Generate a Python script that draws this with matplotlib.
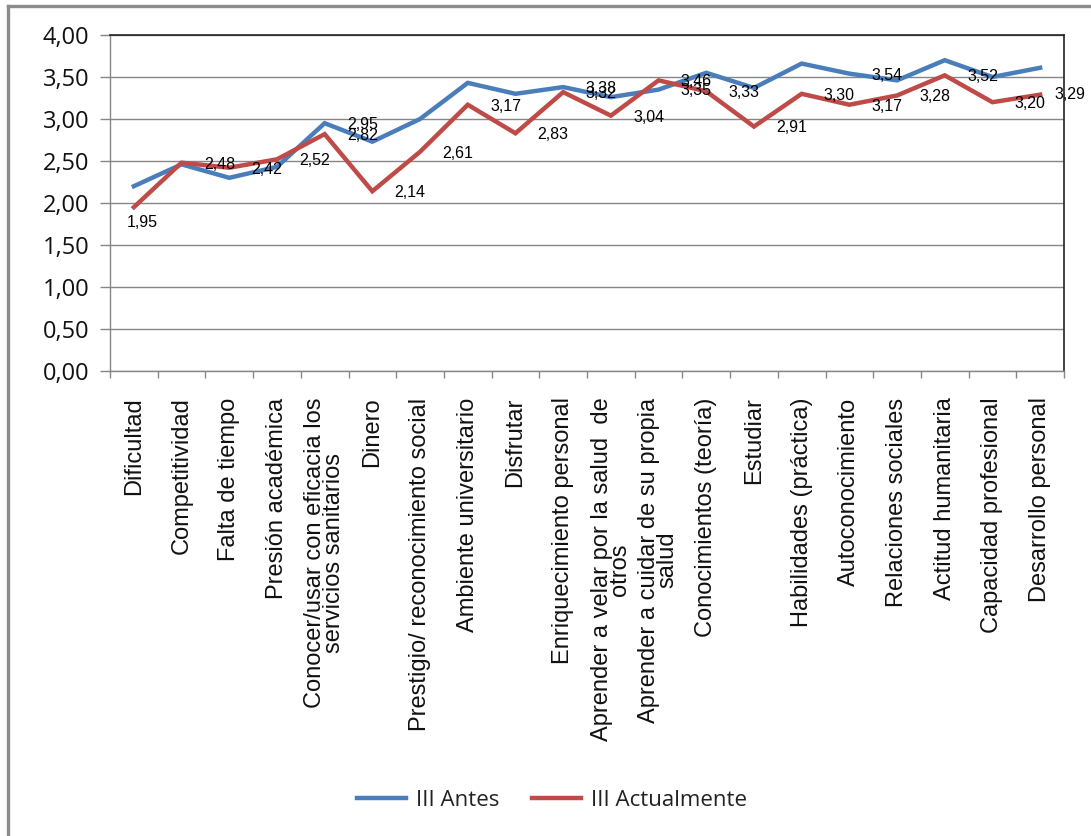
import matplotlib.pyplot as plt
from matplotlib.lines import Line2D
from matplotlib.ticker import FixedLocator, FuncFormatter, MultipleLocator

# Categories, in plotting order.
categorias = [
    'Dificultad',
    'Competitividad',
    'Falta de tiempo',
    'Presión académica',
    'Conocer/usar con eficacia los\nservicios sanitarios',
    'Dinero',
    'Prestigio/ reconocimiento social',
    'Ambiente universitario',
    'Disfrutar',
    'Enriquecimiento personal',
    'Aprender a velar por la salud  de\notros',
    'Aprender a cuidar de su propia\nsalud',
    'Conocimientos (teoría)',
    'Estudiar',
    'Habilidades (práctica)',
    'Autoconocimiento',
    'Relaciones sociales',
    'Actitud humanitaria',
    'Capacidad profesional',
    'Desarrollo personal',
]

antes = [2.20, 2.46, 2.30, 2.43, 2.95, 2.73, 3.00, 3.43, 3.30, 3.38,
         3.26, 3.35, 3.55, 3.37, 3.66, 3.54, 3.46, 3.70, 3.50, 3.61]
actualmente = [1.95, 2.48, 2.42, 2.52, 2.82, 2.14, 2.61, 3.17, 2.83, 3.32,
               3.04, 3.46, 3.33, 2.91, 3.30, 3.17, 3.28, 3.52, 3.20, 3.29]

# Which "Antes" points carry a value label (the rest are unlabeled).
antes_etiquetados = [4, 9, 11, 15]

AZUL = '#4A7EBB'
ROJO = '#BE4B48'
GRIS = '#868686'
SANS = ['Liberation Sans', 'DejaVu Sans']

def coma(v, pos=None):
    return ('%.2f' % v).replace('.', ',')

def etiqueta(i, v, dx=16, dy=-1, ha='left'):
    ax.annotate(coma(v), (i, v), xytext=(dx, dy), textcoords='offset points',
                ha=ha, va='center', fontsize=11.5, family=SANS, zorder=4)

fig = plt.figure(figsize=(10.91, 8.36), dpi=100)
ax = fig.add_axes([110/1091, 1 - 371/836, (1064 - 110)/1091, (371 - 35)/836])

x = list(range(len(categorias)))
ax.plot(x, antes, color=AZUL, lw=3.2, solid_joinstyle='miter', label='III Antes', zorder=3)
ax.plot(x, actualmente, color=ROJO, lw=3.2, solid_joinstyle='miter', label='III Actualmente', zorder=3)

# Data labels, Excel "right" position (first one sits below, last one pulled in).
for i, v in enumerate(actualmente):
    if i == 0:
        etiqueta(i, v, 6, -11, 'center')
    elif i == len(actualmente) - 1:
        etiqueta(i, v, 10, 0)
    else:
        etiqueta(i, v)
for i in antes_etiquetados:
    etiqueta(i, antes[i])

ax.set_xlim(-0.5, len(categorias) - 0.5)
ax.set_ylim(0, 4)
ax.yaxis.set_major_locator(MultipleLocator(0.5))
ax.yaxis.set_major_formatter(FuncFormatter(coma))
ax.grid(axis='y', color=GRIS, lw=1.0, zorder=1)

ax.set_xticks(x)
ax.set_xticklabels(categorias, rotation=90, fontsize=17, family=SANS,
                   linespacing=0.8, color='#111111')
ax.xaxis.set_minor_locator(FixedLocator([i - 0.5 for i in range(len(categorias) + 1)]))
ax.tick_params(axis='x', which='major', length=0, pad=19)
ax.tick_params(axis='x', which='minor', length=5, color=GRIS, width=1.0)
ax.tick_params(axis='y', length=7, color=GRIS, width=1.0, pad=8,
               labelsize=17, labelcolor='#111111')
for lab in ax.get_yticklabels():
    lab.set_family('Open Sans')

for s in ['left', 'bottom']:
    ax.spines[s].set_color(GRIS)
    ax.spines[s].set_linewidth(1.0)
for s in ['top', 'right']:
    ax.spines[s].set_color('#222222')
    ax.spines[s].set_linewidth(1.2)

leg = fig.legend(loc='center', bbox_to_anchor=(552/1091, 1 - 800/836), ncol=2,
                 frameon=False, handlelength=2.2, handletextpad=0.45,
                 columnspacing=1.5, prop={'family': 'Open Sans', 'size': 16})
for t in leg.get_texts():
    t.set_color('#222222')

# Chart frame (only left and top edges show).
fx = 7.5/1091
fy = 1 - 5.5/836
fig.add_artist(Line2D([fx, fx], [0, fy], color='#8C8C8C', lw=2.4, transform=fig.transFigure))
fig.add_artist(Line2D([fx, 1], [fy, fy], color='#8C8C8C', lw=2.4, transform=fig.transFigure))

fig.savefig('out.png', dpi=100)
